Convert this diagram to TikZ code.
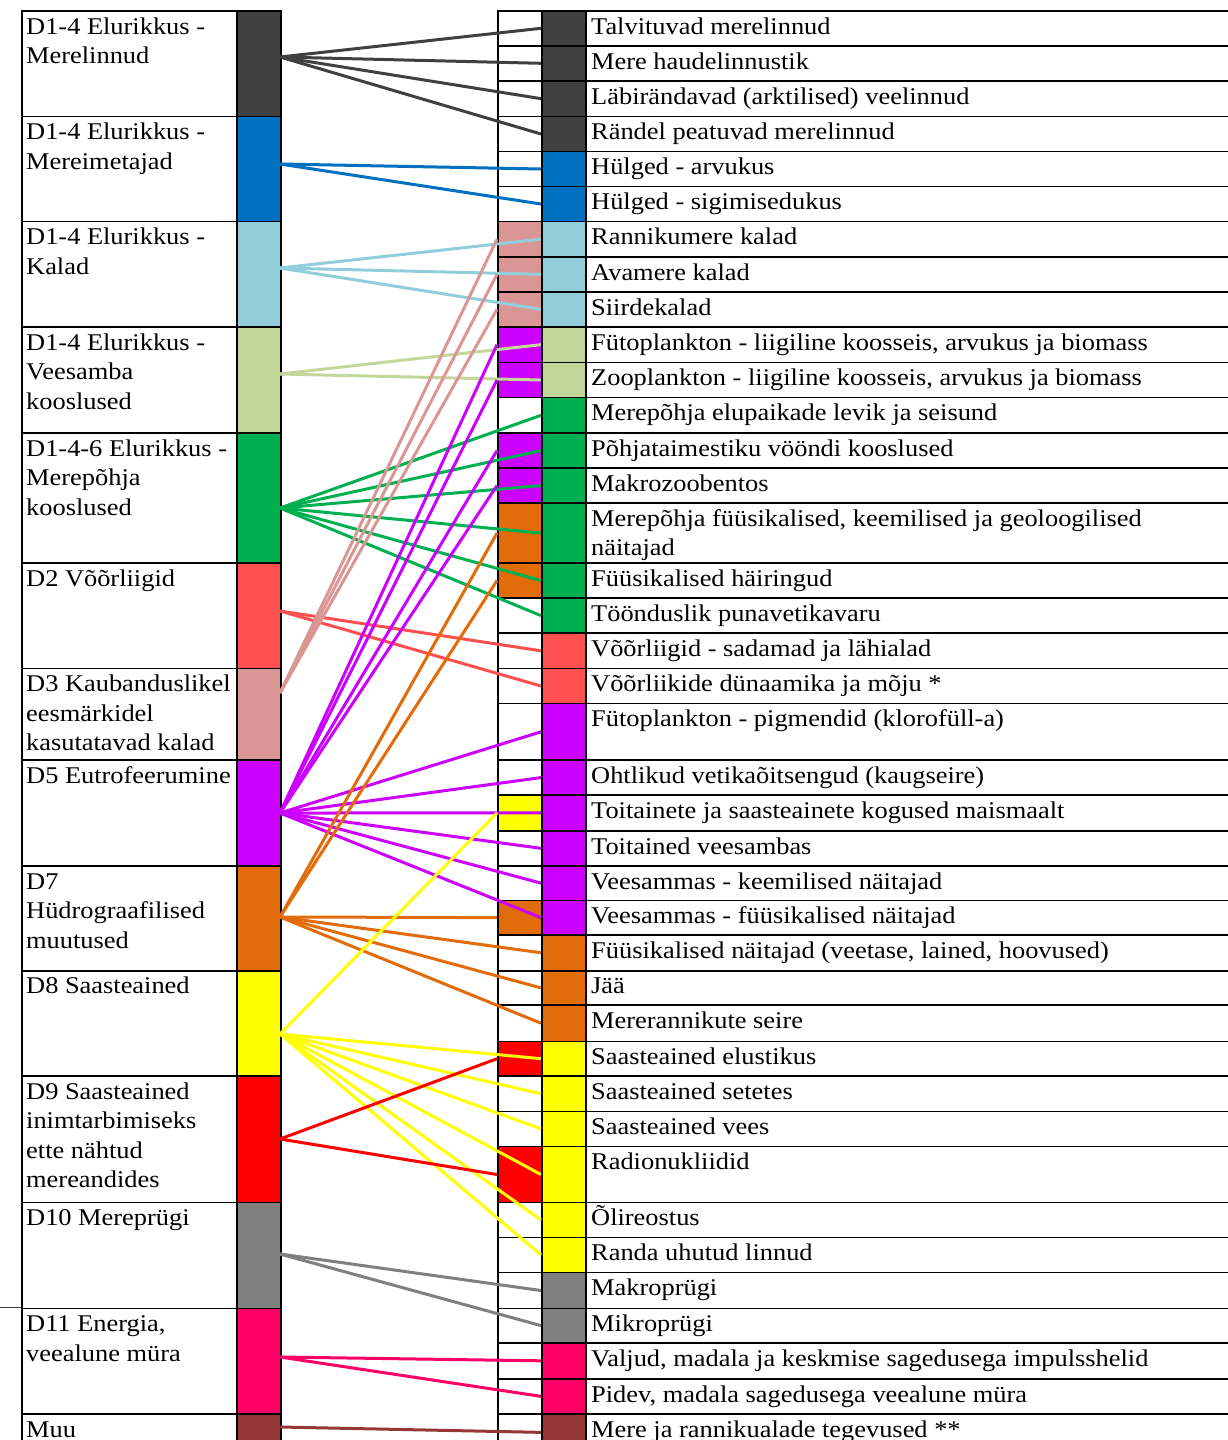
\documentclass[tikz,border=0pt]{standalone}
\usepackage{fontspec}
\setmainfont[FakeStretch=1.1]{Liberation Serif}
\usetikzlibrary{calc}
\definecolor{linnud}{HTML}{404040}
\definecolor{imetajad}{HTML}{0070C0}
\definecolor{kalad}{HTML}{92CDDC}
\definecolor{plankton}{HTML}{C4D79B}
\definecolor{pohi}{HTML}{00B050}
\definecolor{voor}{HTML}{FF5050}
\definecolor{kaubandus}{HTML}{DA9694}
\definecolor{eutro}{HTML}{CC00FF}
\definecolor{hudro}{HTML}{E26B0A}
\definecolor{saaste}{HTML}{FFFF00}
\definecolor{toit}{HTML}{FF0000}
\definecolor{prygi}{HTML}{808080}
\definecolor{muu}{HTML}{953735}
\definecolor{myra}{HTML}{FF0066}
\newcommand{\ridad}[1]{\begin{tabular}[t]{@{}l@{}}#1\end{tabular}}
\tikzset{
  lahter/.style={draw=black,line width=1.6pt,inner sep=0pt,anchor=north west,minimum width=#1},
  silt/.style={anchor=base west,inner sep=0pt,font=\fontsize{24}{29.5}\selectfont},
  seos/.style={line width=3pt},
  tuhm/.style={black!75,line width=0.8pt},
}

\begin{document}
\begin{tikzpicture}[x=1pt,y=-1pt]
  \useasboundingbox (0,0) rectangle (1228,1440);
  \clip (0,0) rectangle (1228,1440);
  % vasak tabel: tunnused
  \foreach \n/\ya/\yb/\yh/\kk/\txt in {
    1/10/115.7/57/linnud/{D1-4 Elurikkus -\\Merelinnud},
    2/115.7/220.7/164/imetajad/{D1-4 Elurikkus -\\Mereimetajad},
    3/220.7/326/268/kalad/{D1-4 Elurikkus -\\Kalad},
    4/326/432.3/374/plankton/{D1-4 Elurikkus -\\Veesamba\\kooslused},
    5/432.3/562.3/508/pohi/{D1-4-6 Elurikkus -\\Merepõhja\\kooslused},
    6/562.3/667.7/611/voor/{D2 Võõrliigid},
    7/667.7/759.3/693/kaubandus/{D3 Kaubanduslikel\\eesmärkidel\\kasutatavad kalad},
    8/759.3/865/813/eutro/{D5 Eutrofeerumine},
    9/865/969.9/917/hudro/{D7\\Hüdrograafilised\\muutused},
    10/969.9/1075.3/1034/saaste/{D8 Saasteained},
    11/1075.3/1201.8/1139/toit/{D9 Saasteained\\inimtarbimiseks\\ette nähtud\\mereandides},
    12/1201.8/1307.6/1254/prygi/{D10 Mereprügi},
    13/1307.6/1413.1/1357/myra/{D11 Energia,\\veealune müra},
    14/1413.1/1450/1427/muu/{Muu}}{
    \node[lahter=215pt,minimum height={(\yb-\ya)*1pt}] (v\n) at (21,\ya) {};
    \node[lahter=44pt,minimum height={(\yb-\ya)*1pt},fill=\kk] (k\n) at (236,\ya) {};
    \node[silt] (d\n) at (26,\ya+24) {\ridad{\txt}};
    \coordinate (h\n) at (280,\yh);
  }
  % parem tabel: seireprogrammid
  \foreach \n/\ya/\yb/\kv/\kk/\txt in {
    1/10/45/white/linnud/{Talvituvad merelinnud},
    2/45/80/white/linnud/{Mere haudelinnustik},
    3/80/115.7/white/linnud/{Läbirändavad (arktilised) veelinnud},
    4/115.7/150.7/white/linnud/{Rändel peatuvad merelinnud},
    5/150.7/185.7/white/imetajad/{Hülged - arvukus},
    6/185.7/220.7/white/imetajad/{Hülged - sigimisedukus},
    7/220.7/256/kaubandus/kalad/{Rannikumere kalad},
    8/256/291/kaubandus/kalad/{Avamere kalad},
    9/291/326/kaubandus/kalad/{Siirdekalad},
    10/326/361.7/eutro/plankton/{Fütoplankton - liigiline koosseis, arvukus ja biomass},
    11/361.7/396.7/eutro/plankton/{Zooplankton - liigiline koosseis, arvukus ja biomass},
    12/396.7/432.3/white/pohi/{Merepõhja elupaikade levik ja seisund},
    13/432.3/467.3/eutro/pohi/{Põhjataimestiku vööndi kooslused},
    14/467.3/502.3/eutro/pohi/{Makrozoobentos},
    15/502.3/562.3/hudro/pohi/{Merepõhja füüsikalised, keemilised ja geoloogilised\\näitajad},
    16/562.3/597.3/hudro/pohi/{Füüsikalised häiringud},
    17/597.3/632.3/white/pohi/{Töönduslik punavetikavaru},
    18/632.3/667.7/white/voor/{Võõrliigid - sadamad ja lähialad},
    19/667.7/702.7/white/voor/{Võõrliikide dünaamika ja mõju *},
    20/702.7/759.3/white/eutro/{Fütoplankton - pigmendid (klorofüll-a)},
    21/759.3/794.3/white/eutro/{Ohtlikud vetikaõitsengud (kaugseire)},
    22/794.3/830/saaste/eutro/{Toitainete ja saasteainete kogused maismaalt},
    23/830/865/white/eutro/{Toitained veesambas},
    24/865/899.6/white/eutro/{Veesammas - keemilised näitajad},
    25/899.6/934/hudro/eutro/{Veesammas - füüsikalised näitajad},
    26/934/969.9/white/hudro/{Füüsikalised näitajad (veetase, lained, hoovused)},
    27/969.9/1004.3/white/hudro/{Jää},
    28/1004.3/1040.5/white/hudro/{Mererannikute seire},
    29/1040.5/1075.3/toit/saaste/{Saasteained elustikus},
    30/1075.3/1110.5/white/saaste/{Saasteained setetes},
    31/1110.5/1145.6/white/saaste/{Saasteained vees},
    32/1145.6/1201.8/toit/saaste/{Radionukliidid},
    33/1201.8/1236.6/white/saaste/{Õlireostus},
    34/1236.6/1271.8/white/saaste/{Randa uhutud linnud},
    35/1271.8/1307.6/white/prygi/{Makroprügi},
    36/1307.6/1342/white/prygi/{Mikroprügi},
    37/1342/1378/white/myra/{Valjud, madala ja keskmise sagedusega impulsshelid},
    38/1378/1413.1/white/myra/{Pidev, madala sagedusega veealune müra},
    39/1413.1/1450/white/muu/{Mere ja rannikualade tegevused **}}{
    \node[lahter=44pt,minimum height={(\yb-\ya)*1pt},fill=\kv] (m\n) at (497,\ya) {};
    \node[lahter=44pt,minimum height={(\yb-\ya)*1pt},fill=\kk] (r\n) at (541,\ya) {};
    \node[lahter=643pt,minimum height={(\yb-\ya)*1pt}] (t\n) at (585,\ya) {};
    \node[silt] (s\n) at (591,\ya+24) {\ridad{\txt}};
  }
  \draw[tuhm] (v13.north west) -- +(-21,0);
  % seosed
  \foreach \h/\kk/\sihid in {
    1/linnud/{r1,r2,r3,r4},
    2/imetajad/{r5,r6},
    3/kalad/{r7,r8,r9},
    4/plankton/{r10,r11},
    5/pohi/{r12,r13,r14,r15,r16,r17},
    6/voor/{r18,r19},
    7/kaubandus/{m7,m8,m9},
    8/eutro/{m10,m11,m13,m14,r20,r21,r22,r23,r24,r25},
    9/hudro/{m15,m16,m25,r26,r27,r28},
    10/saaste/{m22,r29,r30,r31,r32,r33,r34},
    11/toit/{m29,m32},
    12/prygi/{r35,r36},
    13/myra/{r37,r38},
    14/muu/{r39}}{
    \foreach \s in \sihid
      \draw[seos,\kk] (h\h) -- (\s.west);
  }
\end{tikzpicture}
\end{document}
